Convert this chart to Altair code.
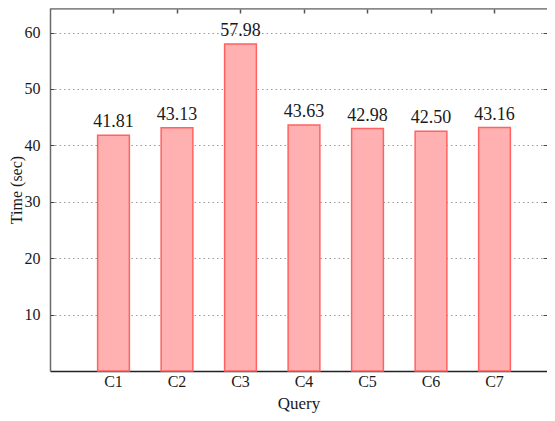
import altair as alt
import pandas as pd

queries = ["C1", "C2", "C3", "C4", "C5", "C6", "C7"]
times = [41.81, 43.13, 57.98, 43.63, 42.98, 42.50, 43.16]
y_ticks = [10, 20, 30, 40, 50, 60]

df = pd.DataFrame({"query": queries, "time": times})
FONT = "Liberation Serif"
TXT = "#1a1a1a"

xscale = alt.Scale(domain=queries, paddingInner=0.5, paddingOuter=0.6634,
                   align=0.5653, round=False)
yscale = alt.Scale(domain=[0, 64.36], nice=False, zero=True)

base = alt.Chart(df)

bars = base.mark_bar(fill="#ffb0b0", stroke="#ff6262", strokeWidth=1.5).encode(
    x=alt.X("query:N", scale=xscale, sort=queries,
            axis=alt.Axis(orient="bottom", title="Query", labelAngle=0,
                          domainColor="#222222", domainWidth=1.5, ticks=False,
                          labelPadding=2, titlePadding=6,
                          labelFont=FONT, labelFontSize=16, labelColor=TXT,
                          titleFont=FONT, titleFontSize=17, titleFontWeight="normal",
                          titleColor=TXT, grid=False)),
    y=alt.Y("time:Q", scale=yscale,
            axis=alt.Axis(orient="left", title="Time (sec)", values=y_ticks,
                          grid=True, gridDash=[1.5, 3], gridColor="#9a9a9a", gridWidth=1,
                          domainColor="#6a6a6a", domainWidth=1.5, ticks=False,
                          labelPadding=10, titlePadding=0,
                          labelFont=FONT, labelFontSize=16, labelColor=TXT,
                          titleFont=FONT, titleFontSize=16, titleFontWeight="normal",
                          titleColor=TXT)),
)

labels = base.mark_text(baseline="alphabetic", dy=-8, font=FONT, fontSize=18, color=TXT).encode(
    x=alt.X("query:N", scale=xscale, sort=queries, axis=None),
    y=alt.Y("time:Q", scale=yscale, axis=None),
    text=alt.Text("time:Q", format=".2f"),
)

ticks = base.mark_bar(opacity=0).encode(
    x=alt.X("query:N", scale=xscale, sort=queries,
            axis=alt.Axis(orient="top", offset=-5, tickSize=5, tickColor="#555555",
                          tickWidth=1.5, domain=False, labels=False, title=None, grid=False)),
    y=alt.Y("time:Q", scale=yscale,
            axis=alt.Axis(orient="right", offset=-4, tickSize=4, tickColor="#444444",
                          values=y_ticks, domain=False, labels=False, title=None, grid=False)),
)

frame = base.mark_bar(opacity=0).encode(
    x=alt.X("query:N", scale=xscale, sort=queries,
            axis=alt.Axis(orient="top", domain=True, domainColor="#8a8a8a", domainWidth=2.5,
                          ticks=False, labels=False, title=None, grid=False)),
    y=alt.Y("time:Q", scale=yscale,
            axis=alt.Axis(orient="left", offset=-4, tickSize=4, tickColor="#444444",
                          values=y_ticks, domain=False, labels=False, title=None, grid=False)),
)

chart = alt.layer(bars, labels, ticks, frame).resolve_axis(
    x="independent", y="independent"
).properties(
    width=497, height=363,
    autosize=alt.AutoSizeParams(type="none"),
    padding={"left": 42, "top": 0, "right": 0, "bottom": 42},
).configure_view(stroke="transparent")

chart.save("out.html", embed_options={"renderer": "svg", "actions": False})
